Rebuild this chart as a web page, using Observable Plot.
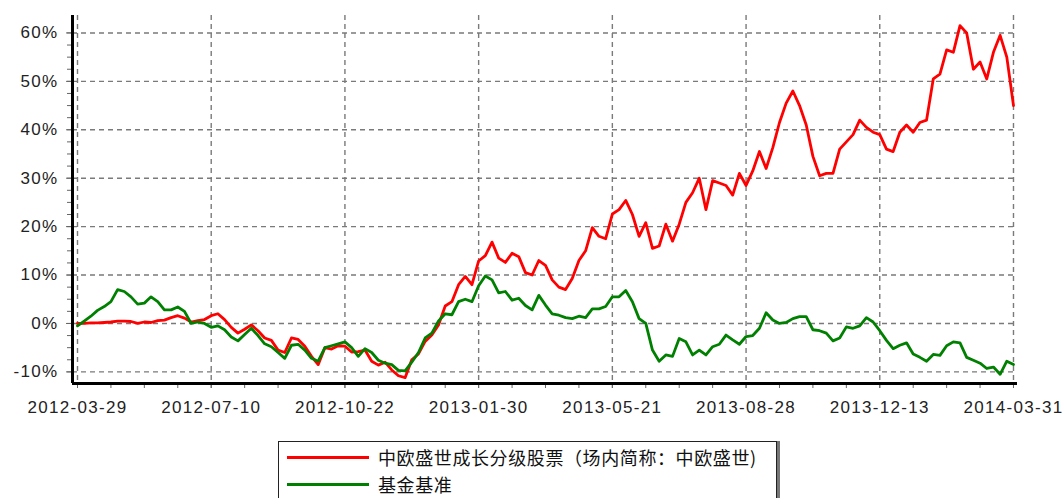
<!DOCTYPE html>
<html>
<head>
<meta charset="utf-8">
<script src="https://cdn.jsdelivr.net/npm/d3@7"></script>
<script src="https://cdn.jsdelivr.net/npm/@observablehq/plot@0.6"></script>
<style>
  html, body { margin: 0; padding: 0; background: #fff; width: 1062px; height: 498px; overflow: hidden; }
  #chart { position: absolute; left: 0; top: 0; }
  #chart svg text { letter-spacing: 1.3px; }
  #legend {
    position: absolute; left: 278px; top: 441px; width: 497px; height: 80px;
    border: 1px solid #222; box-shadow: 3px 0 0 #777; background: #fff;
    font-family: "Noto Sans CJK SC", sans-serif; font-size: 18px; color: #111;
  }
  .item { position: absolute; left: 8px; height: 28px; display: flex; align-items: center; }
  .swatch { width: 82px; height: 3px; margin-right: 9px; }
  .label { letter-spacing: 0.6px; white-space: nowrap; }
</style>
</head>
<body>
<div id="chart"></div>
<div id="legend">
  <div class="item" style="top:1px"><div class="swatch" style="background:#ff0000"></div><span class="label" id="l1"></span></div>
  <div class="item" style="top:28px"><div class="swatch" style="background:#008000"></div><span class="label" id="l2"></span></div>
</div>
<script>
// x tick labels (evenly spaced trading-day positions)
const tickLabels = ["2012-03-29","2012-07-10","2012-10-22","2013-01-30","2013-05-21","2013-08-28","2013-12-13","2014-03-31"];
const samplesPerTick = 20;
const seriesNames = ["中欧盛世成长分级股票（场内简称：中欧盛世)", "基金基准"];
const seriesColors = ["#ff0000", "#008000"];
const yTicks = [-10, 0, 10, 20, 30, 40, 50, 60];

// cumulative return (%) of the fund
const fundValues = [
  0, 0, 0.1, 0.1, 0.2, 0.3, 0.5, 0.5, 0.4, 0.0,
  0.3, 0.2, 0.6, 0.7, 1.2, 1.6, 1.1, 0.3, 0.6, 0.8,
  1.6, 2.0, 0.8, -0.8, -2.0, -1.2, -0.3, -1.5, -3.0, -3.5,
  -5.5, -6.0, -3.0, -3.3, -4.7, -6.8, -8.5, -5.0, -5.3, -4.6,
  -4.7, -5.9, -5.8, -5.5, -7.8, -8.6, -8.0, -9.6, -10.8, -11.2,
  -7.5, -6.3, -3.7, -2.4, -0.3, 3.6, 4.5, 8.0, 9.7, 8.0,
  12.9, 14.0, 16.8, 13.5, 12.6, 14.5, 13.8, 10.5, 10.0, 13.0,
  12.0, 9.0, 7.5, 7.0, 9.3, 13.0, 15.0, 19.8, 18.0, 17.5,
  22.6, 23.5, 25.4, 22.5, 18.0, 20.8, 15.5, 16.0, 20.5, 17.0,
  20.5, 25.0, 27.0, 30.0, 23.5, 29.5, 29.0, 28.5, 26.5, 31.0,
  28.5, 31.5, 35.5, 32.0, 36.3, 41.5, 45.5, 48.0, 45.0, 41.0,
  34.5, 30.5, 31.0, 31.0, 36.0, 37.5, 39.0, 42.0, 40.5, 39.5,
  39.0, 36.0, 35.5, 39.5, 41.0, 39.5, 41.5, 42.0, 50.5, 51.5,
  56.5, 56.0, 61.5, 60.0, 52.5, 54.0, 50.5, 56.0, 59.5, 55.0,
  45.0
];

// cumulative return (%) of the benchmark
const benchmarkValues = [
  -0.5, 0.5, 1.5, 2.7, 3.5, 4.5, 7.0, 6.6, 5.5, 4.0,
  4.2, 5.5, 4.5, 2.8, 2.8, 3.4, 2.5, 0.0, 0.3, 0.0,
  -0.8, -0.5, -1.3, -2.8, -3.6, -2.3, -1.0, -2.5, -4.2, -4.8,
  -6.0, -7.2, -4.5, -4.3, -5.5, -7.2, -7.8, -5.0, -4.6, -4.2,
  -3.8, -5.0, -6.8, -5.2, -6.0, -7.6, -8.2, -8.5, -9.7, -9.8,
  -8.0, -6.0, -3.0, -2.0, 0.5, 2.0, 1.8, 4.5, 5.0, 4.5,
  7.8, 9.8, 9.0, 6.3, 6.6, 4.8, 5.2, 3.7, 2.8, 5.8,
  3.8, 2.0, 1.7, 1.2, 1.0, 1.5, 1.2, 3.0, 3.0, 3.5,
  5.5, 5.5, 6.8, 4.5, 1.0, 0.0, -5.5, -7.8, -6.5, -6.8,
  -3.1, -3.8, -6.5, -5.5, -6.5, -4.8, -4.3, -2.4, -3.4, -4.3,
  -2.7, -2.5, -1.0, 2.2, 0.7, 0.0, 0.2, 1.0, 1.4, 1.4,
  -1.3, -1.5, -2.0, -3.6, -3.0, -0.7, -1.0, -0.5, 1.2, 0.3,
  -1.5, -3.5, -5.2, -4.5, -4.0, -6.3, -7.0, -7.8, -6.4, -6.6,
  -4.6, -3.8, -4.0, -7.0, -7.6, -8.2, -9.3, -9.0, -10.5, -7.8,
  -8.5
];

const toRows = (vals, s) => vals.map((v, i) => ({t: i / samplesPerTick, v, s}));
const fundRows = toRows(fundValues, seriesNames[0]);
const benchRows = toRows(benchmarkValues, seriesNames[1]);

const nTicks = tickLabels.length - 1;
const xMajor = d3.range(0, tickLabels.length);
const xMinor = d3.range(0, nTicks * 4 + 1).map(i => i / 4);
const yMinor = d3.range(-10, 62.5, 2.5);
const xDomain = [-0.0374, nTicks + 0.03];
const yDomain = [-12.4, 63.6];

const grid = {stroke: "#7a7a7a", strokeWidth: 1.4, strokeDasharray: "5,4", strokeOpacity: 1};

const chart = Plot.plot({
  width: 1062,
  height: 432,
  marginLeft: 72,
  marginRight: 45,
  marginTop: 15,
  marginBottom: 49,
  style: {fontFamily: "'Liberation Sans', Arial, sans-serif", fontSize: "17px", color: "#222", background: "#fff"},
  x: {type: "linear", domain: xDomain, label: null},
  y: {domain: yDomain, label: null},
  marks: [
    Plot.ruleY(yTicks, {...grid, x1: xDomain[0], x2: nTicks}),
    Plot.ruleX(xMajor, grid),
    Plot.axisX({ticks: xMinor, tickSize: 5, tickFormat: () => "", stroke: "#666", label: null}),
    Plot.axisX({ticks: xMajor, tickSize: 5, tickPadding: 12, tickFormat: i => tickLabels[i], stroke: "#666", fill: "#222", label: null}),
    Plot.axisY({ticks: yMinor, tickSize: 5, tickFormat: () => "", stroke: "#666", label: null}),
    Plot.axisY({ticks: yTicks, tickSize: 6, tickPadding: 8, tickFormat: d => d + "%", stroke: "#666", fill: "#222", label: null}),
    Plot.line(fundRows, {x: "t", y: "v", stroke: seriesColors[0], strokeWidth: 2.8}),
    Plot.line(benchRows, {x: "t", y: "v", stroke: seriesColors[1], strokeWidth: 2.8}),
    Plot.ruleY([yDomain[0]], {stroke: "#000", strokeWidth: 3}),
    Plot.ruleX([xDomain[0]], {stroke: "#000", strokeWidth: 3})
  ]
});
document.getElementById("chart").appendChild(chart);
document.getElementById("l1").textContent = seriesNames[0];
document.getElementById("l2").textContent = seriesNames[1];
</script>
</body>
</html>
